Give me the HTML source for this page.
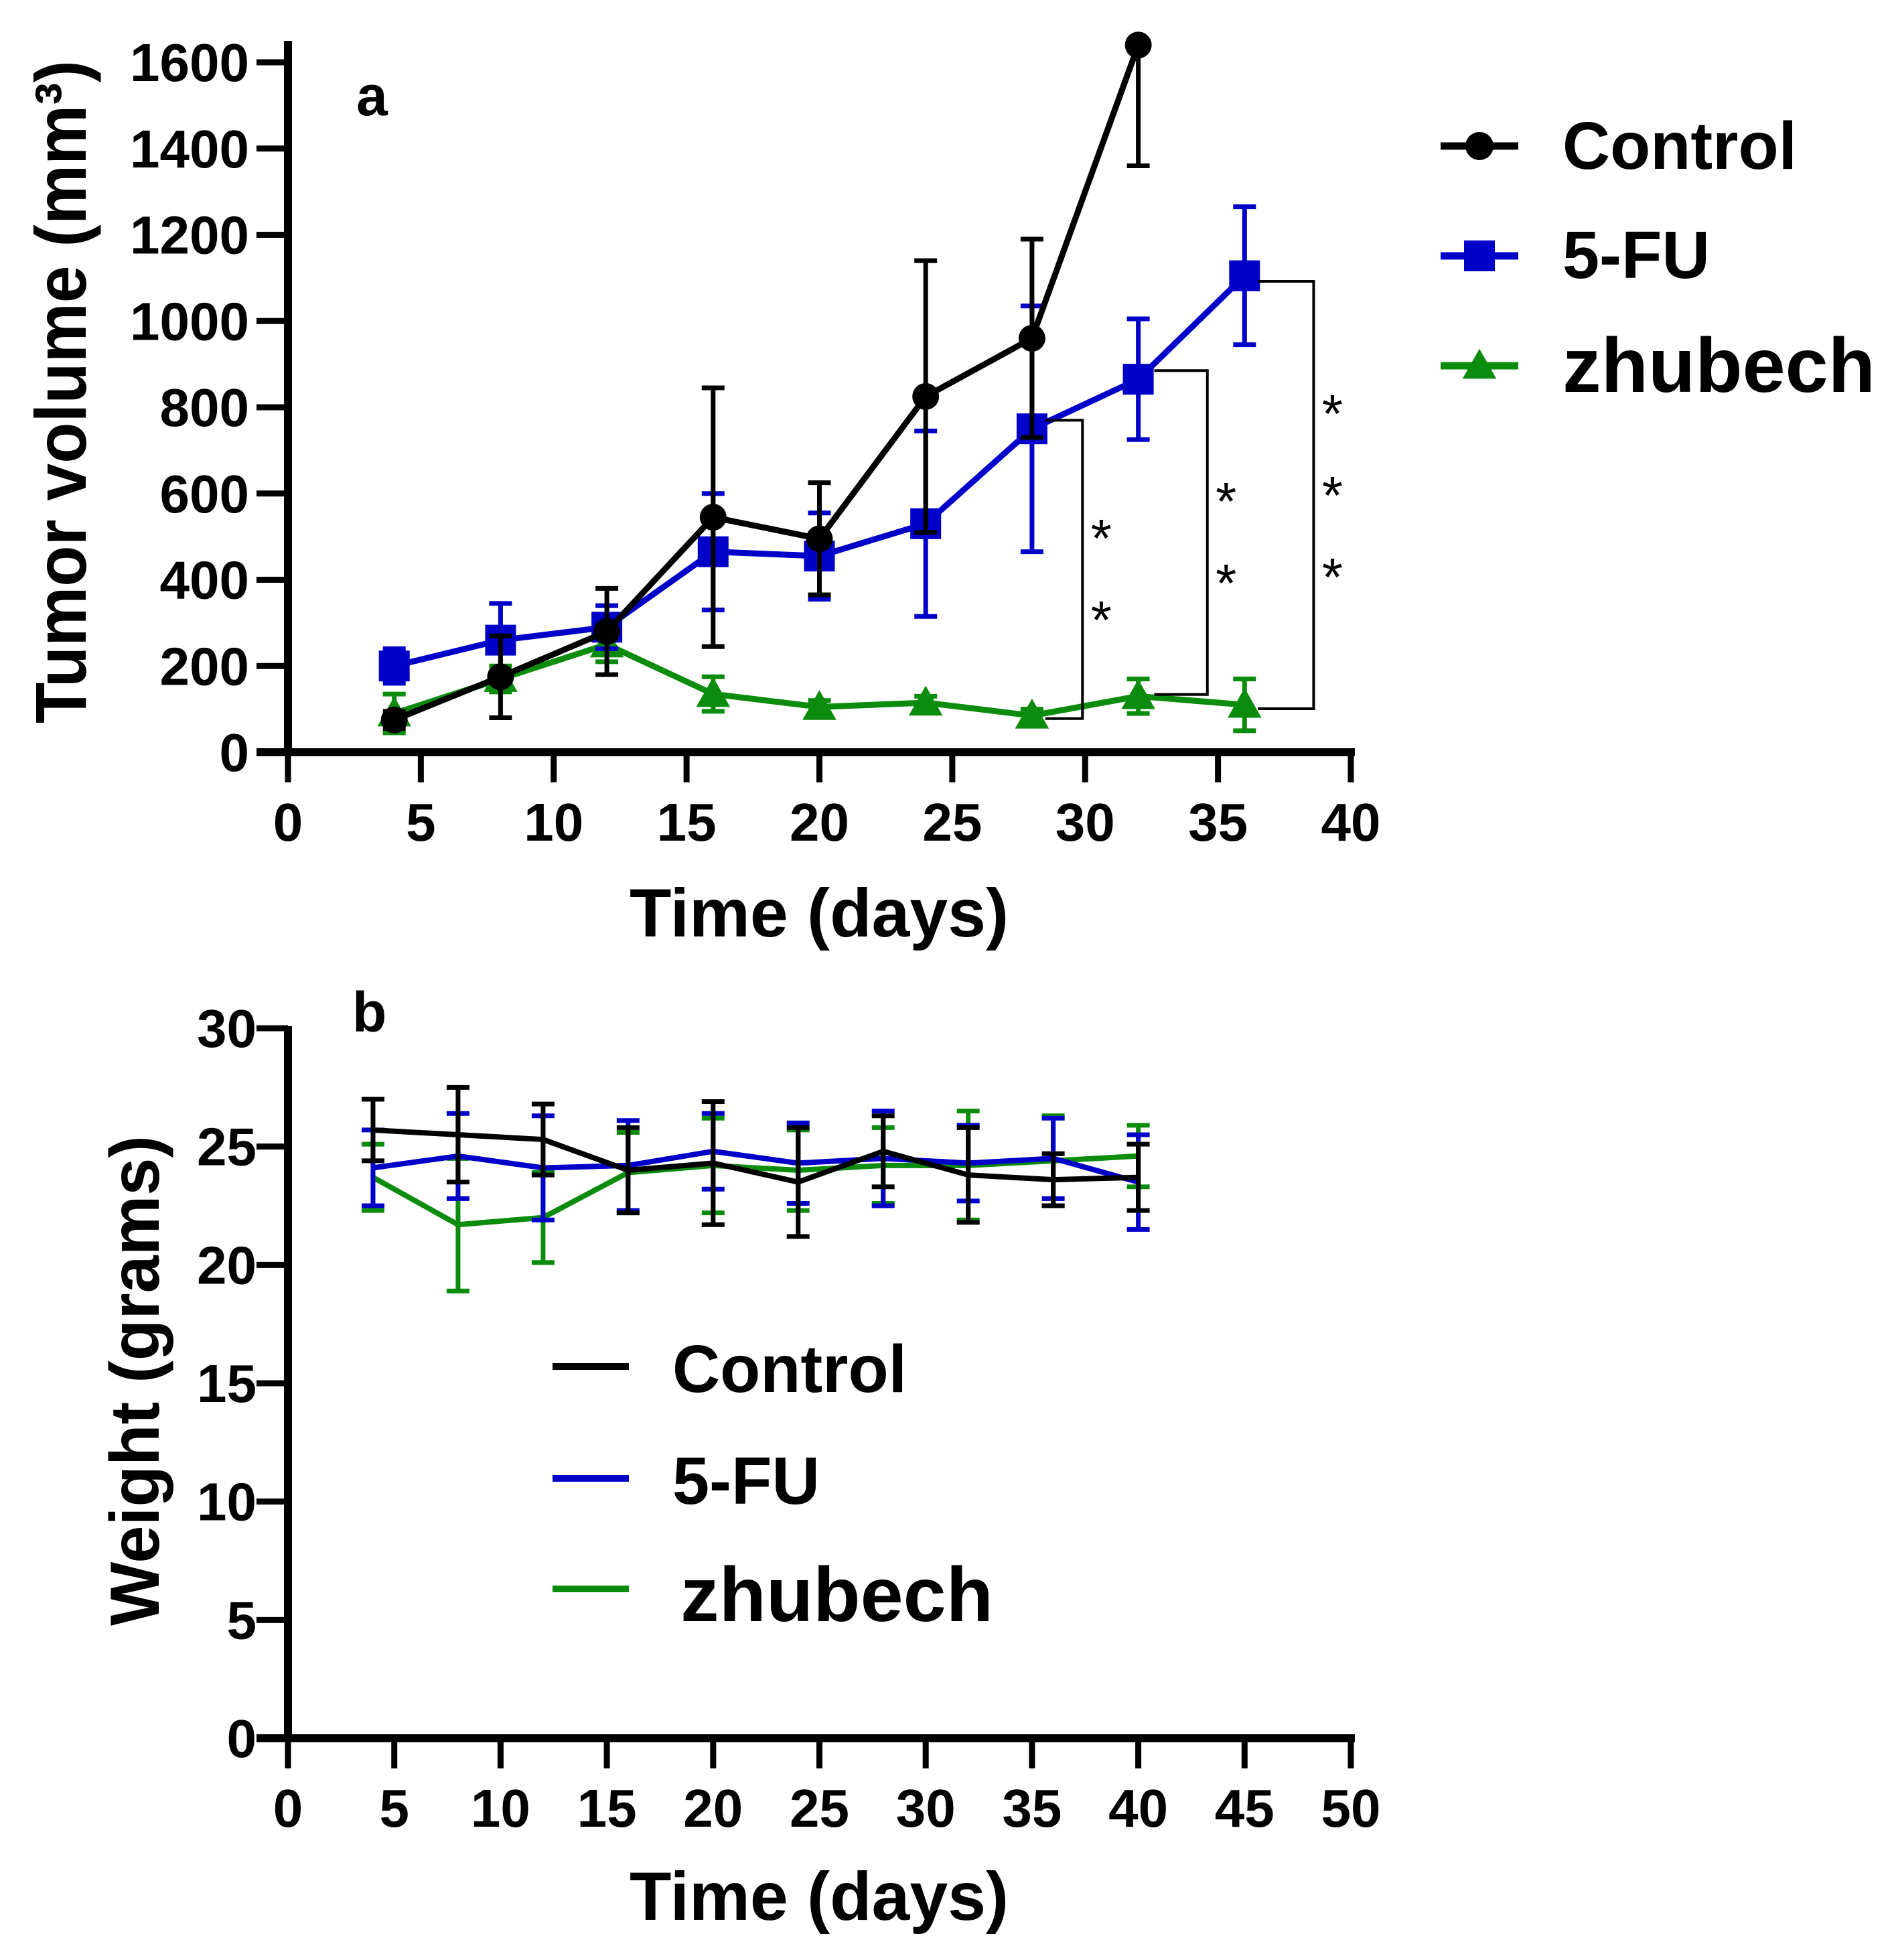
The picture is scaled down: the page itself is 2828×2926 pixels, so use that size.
<!DOCTYPE html>
<html><head><meta charset="utf-8"><style>
html,body{margin:0;padding:0;background:#fff;}
svg{display:block;font-family:"Liberation Sans",Arial,sans-serif;}
</style></head><body>
<svg id="fig" width="2828" height="2926" viewBox="0 0 2828 2926" xmlns="http://www.w3.org/2000/svg">
<defs><clipPath id="clipA"><rect x="0" y="72" width="2828" height="1300"/></clipPath></defs>
<rect width="2828" height="2926" fill="#fff"/>
<g id="pa"></g>
<g id="pb"></g>
</svg>
<script>
// ---- Panel a data ----
const daysA = [4, 8, 12, 16, 20, 24, 28, 32, 36];
const ctrlA = [75, 175, 280, 545, 495, 825, 960, 1640];
const ctrlAErr = [20, 95, 100, 300, 130, 315, 230, 280];
const fuA = [200, 260, 290, 465, 455, 530, 750, 865, 1105];
const fuAErr = [40, 85, 50, 135, 100, 215, 285, 140, 160];
const zhA = [90, 170, 250, 135, 105, 115, 85, 130, 110];
const zhAErr = [45, 30, 40, 40, 15, 15, 15, 40, 60];
const yTicksA = [0, 200, 400, 600, 800, 1000, 1200, 1400, 1600];
const xTicksA = [0, 5, 10, 15, 20, 25, 30, 35, 40];
const bracketRight = [29.9, 34.6, 38.6];
const bracketLeft = [28.5, 32.6, 36.5];
const bracketTop = [770, 885, 1092];
const bracketBottom = [78, 134, 101];
const bracketStars = [2, 2, 3];
// ---- Panel b data ----
const daysB = [4, 8, 12, 16, 20, 24, 28, 32, 36, 40];
const ctrlB = [25.7, 25.5, 25.3, 24.0, 24.3, 23.5, 24.8, 23.8, 23.6, 23.7];
const ctrlBErr = [1.3, 2.0, 1.5, 1.8, 2.6, 2.3, 1.5, 2.0, 1.1, 1.4];
const fuB = [24.1, 24.6, 24.1, 24.2, 24.8, 24.3, 24.5, 24.3, 24.5, 23.5];
const fuBErr = [1.6, 1.8, 2.2, 1.9, 1.6, 1.7, 2.0, 1.6, 1.7, 2.0];
const zhB = [23.7, 21.7, 22.0, 23.9, 24.2, 24.0, 24.2, 24.2, 24.4, 24.6];
const zhBErr = [1.4, 2.8, 1.9, 1.7, 2.0, 1.7, 1.6, 2.3, 1.9, 1.3];
const yTicksB = [0, 5, 10, 15, 20, 25, 30];
const xTicksB = [0, 5, 10, 15, 20, 25, 30, 35, 40, 45, 50];

const NS = "http://www.w3.org/2000/svg";
const BLACK = "#000", BLUE = "#0000c8", GREEN = "#0c8c0c";
function mk(parent, tag, attrs) {
  const e = document.createElementNS(NS, tag);
  for (const k in attrs) e.setAttribute(k, attrs[k]);
  parent.appendChild(e);
  return e;
}
const xa = d => 430 + d * 39.675;
const ya = v => 1123 - v * (1030 / 1600);
const xb = d => 430 + d * 31.74;
const yb = v => 2595 - v * (1060 / 30);

function marker(g, kind, cx, cy, color, s) {
  let e;
  if (kind === "circle") e = mk(g, "circle", {cx: cx, cy: cy, r: s * 0.5, fill: color});
  else if (kind === "square") e = mk(g, "rect", {x: cx - s / 2, y: cy - s / 2, width: s, height: s, fill: color});
  else if (kind === "triangle") e = mk(g, "polygon", {points: `${cx},${cy - s * 0.55} ${cx - s * 0.55},${cy + s * 0.42} ${cx + s * 0.55},${cy + s * 0.42}`, fill: color});
  return e;
}

function series(panel, name, xs, vals, errs, xf, yf, color, kind, lw, cap, clip) {
  const g = mk(panel, "g", {});
  
  
  const eg = mk(g, "g", clip ? {"clip-path": "url(#" + clip + ")"} : {});
  for (let i = 0; i < vals.length; i++) {
    const x = xf(xs[i]), yt = yf(vals[i] + errs[i]), yl = yf(vals[i] - errs[i]);
    const eb = mk(eg, "path", {d: `M${x},${yt}V${yl}M${x - cap},${yt}H${x + cap}M${x - cap},${yl}H${x + cap}`, stroke: color, "stroke-width": 7, fill: "none"});
    
    
  }
  const pts = vals.map((v, i) => `${xf(xs[i])},${yf(v)}`).join(" ");
  const ln = mk(g, "polyline", {points: pts, stroke: color, "stroke-width": lw, fill: "none", "stroke-linejoin": "round"});
  
  
  if (kind) {
    for (let i = 0; i < vals.length; i++) {
      const m = marker(g, kind, xf(xs[i]), yf(vals[i]), color, kind === "circle" ? 40 : 46);
      
      
    }
  }
}

function axes(panel, yTicks, xTicks, xf, yf, yTop, xEnd, yLabelRight, tickFont) {
  const g = mk(panel, "g", {});
  
  
  const y0 = yf(0), x0 = xf(0);
  const ya_ = mk(g, "line", {x1: x0, y1: yTop, x2: x0, y2: y0 + 6, stroke: "#000", "stroke-width": 12});
  
  
  const xa_ = mk(g, "line", {x1: 383, y1: y0, x2: xf(xEnd) + 6, y2: y0, stroke: "#000", "stroke-width": 12});
  
  
  yTicks.forEach(v => {
    const y = yf(v);
    mk(g, "line", {x1: 383, y1: y, x2: x0, y2: y, stroke: "#000", "stroke-width": 9});
    const t = mk(g, "text", {x: yLabelRight, y: y + 28, "text-anchor": "end", "font-size": tickFont, "font-weight": "bold"});
    t.textContent = v;
    
    
  });
  xTicks.forEach(d => {
    const x = xf(d);
    mk(g, "line", {x1: x, y1: y0, x2: x, y2: y0 + 45, stroke: "#000", "stroke-width": 9});
    const t = mk(g, "text", {x: x, y: y0 + 132, "text-anchor": "middle", "font-size": tickFont, "font-weight": "bold"});
    t.textContent = d;
    
    
  });
}

function text(parent, str, attrs, name) {
  const t = mk(parent, "text", attrs);
  t.textContent = str;
  
  
  return t;
}

// ===== Panel a =====
const pa = document.getElementById("pa");
axes(pa, yTicksA, xTicksA, xa, ya, 61, 40, 372, 80);
series(pa, "zhubech", daysA, zhA, zhAErr, xa, ya, GREEN, "triangle", 9, 17, "clipA");
series(pa, "5-fu", daysA, fuA, fuAErr, xa, ya, BLUE, "square", 9, 17, "clipA");
series(pa, "control", daysA.slice(0, ctrlA.length), ctrlA, ctrlAErr, xa, ya, BLACK, "circle", 9, 17, "clipA");
for (let i = 0; i < bracketRight.length; i++) {
  const xr = xa(bracketRight[i]), xl = xa(bracketLeft[i]);
  const yt = ya(bracketTop[i]), ybm = ya(bracketBottom[i]);
  const br = mk(pa, "path", {d: `M${xl},${yt}H${xr}V${ybm}H${xl}`, stroke: "#000", "stroke-width": 4, fill: "none"});
  
  
  const n = bracketStars[i];
  const mid = (yt + ybm) / 2 - (n === 2 ? 6 : 20);
  for (let k = 0; k < n; k++) {
    const cy = mid + (k - (n - 1) / 2) * 122;
    text(pa, "*", {x: xr + 28, y: cy + 48, "text-anchor": "middle", "font-size": 80}, 'significance-star');
  }
}
text(pa, "a", {x: 532, y: 172, "font-size": 84, "font-weight": "bold"}, 'panel-label-a');
text(pa, "Time (days)", {x: 1223, y: 1398, "text-anchor": "middle", "font-size": 102, "font-weight": "bold", textLength: 566, lengthAdjust: "spacingAndGlyphs"}, 'x-axis-title');
text(pa, "Tumor volume (mm³)", {x: 0, y: 0, "text-anchor": "middle", "font-size": 108, "font-weight": "bold", textLength: 990, lengthAdjust: "spacingAndGlyphs", transform: "translate(128,585) rotate(-90)"}, 'y-axis-title');
// legend a
const legA = [["Control", BLACK, "circle", 218, 252, 350, 100], ["5-FU", BLUE, "square", 382, 415, 220, 100], ["zhubech", GREEN, "triangle", 546, 585, 467, 115]];
legA.forEach(r => {
  const g = mk(pa, "g", {});
  
  
  mk(g, "line", {x1: 2151, y1: r[3], x2: 2267, y2: r[3], stroke: r[1], "stroke-width": 11});
  marker(g, r[2], 2209, r[3], r[1], r[2] === "circle" ? 42 : 46);
  text(g, r[0], {x: 2333, y: r[4], "font-size": r[6], "font-weight": "bold", textLength: r[5], lengthAdjust: "spacingAndGlyphs"}, 'legend-label');
});

// ===== Panel b =====
const pb = document.getElementById("pb");
axes(pb, yTicksB, xTicksB, xb, yb, 1532, 50, 383, 80);
series(pb, "zhubech", daysB, zhB, zhBErr, xb, yb, GREEN, null, 8, 17, null);
series(pb, "5-fu", daysB, fuB, fuBErr, xb, yb, BLUE, null, 8, 17, null);
series(pb, "control", daysB, ctrlB, ctrlBErr, xb, yb, BLACK, null, 8, 17, null);
text(pb, "b", {x: 526, y: 1540, "font-size": 84, "font-weight": "bold"}, 'panel-label-b');
text(pb, "Time (days)", {x: 1223, y: 2866, "text-anchor": "middle", "font-size": 102, "font-weight": "bold", textLength: 566, lengthAdjust: "spacingAndGlyphs"}, 'x-axis-title');
text(pb, "Weight (grams)", {x: 0, y: 0, "text-anchor": "middle", "font-size": 104, "font-weight": "bold", textLength: 732, lengthAdjust: "spacingAndGlyphs", transform: "translate(237,2061) rotate(-90)"}, 'y-axis-title');
const legB = [["Control", BLACK, 2040, 2078, 350, 100, 1004], ["5-FU", BLUE, 2207, 2245, 220, 100, 1004], ["zhubech", GREEN, 2372, 2420, 467, 115, 1016]];
legB.forEach(r => {
  const g = mk(pb, "g", {});
  
  
  mk(g, "line", {x1: 825, y1: r[2], x2: 939, y2: r[2], stroke: r[1], "stroke-width": 10});
  text(g, r[0], {x: r[6], y: r[3], "font-size": r[5], "font-weight": "bold", textLength: r[4], lengthAdjust: "spacingAndGlyphs"}, 'legend-label');
});
</script>
</body></html>
